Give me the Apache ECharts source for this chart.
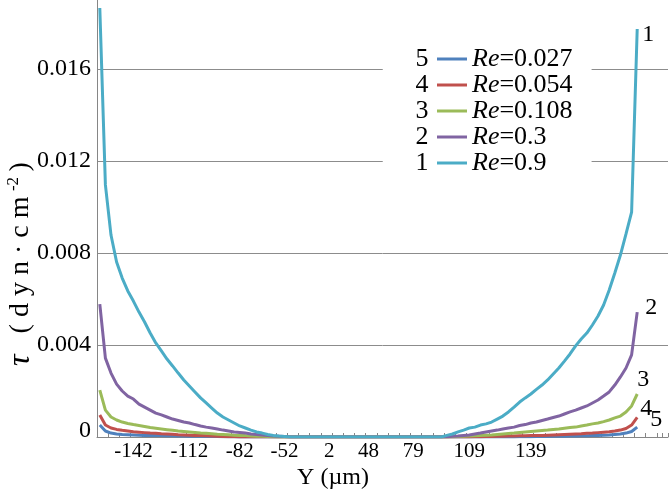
<!DOCTYPE html>
<html><head><meta charset="utf-8">
<script src="https://cdn.jsdelivr.net/npm/echarts@6/dist/echarts.min.js"></script>
<style>html,body{margin:0;padding:0;background:#fff}#c{width:670px;height:497px}</style>
</head><body><div id="c"></div>
<script>
// Category axis: tick labels (Y in µm), most slots unlabeled
const categories = [
  '', '', '', '', '', '', '-142', '', '', '',
  '', '', '', '', '', '', '-112', '', '', '',
  '', '', '', '', '', '-82', '', '', '', '',
  '', '', '', '-52', '', '', '', '', '', '',
  '', '2', '', '', '', '', '', '', '48', '',
  '', '', '', '', '', '', '79', '', '', '',
  '', '', '', '', '', '', '109', '', '', '',
  '', '', '', '', '', '', '', '139', '', '',
  '', '', '', '', '', '', '', '', '', '',
  '', '', '', '', '', '', '', '', '', '',
  '', ''
];
const seriesNames = ['Re=0.027', 'Re=0.054', 'Re=0.108', 'Re=0.3', 'Re=0.9'];
const curveNumbers = ['5', '4', '3', '2', '1'];
const yTickValues = [0, 0.004, 0.008, 0.012, 0.016];

const re0027 = [
  0.00052, 0.00026, 0.00017, 0.00013, 0.00011, 0.00010, 0.00009, 0.00008, 0.00007, 0.00007,
  0.00006, 0.00006, 0.00005, 0.00005, 0.00004, 0.00004, 0.00003, 0.00003, 0.00003, 0.00002,
  0.00002, 0.00002, 0.00001, 0.00001, 0.00001,
  0, 0, 0, 0, 0, 0, 0, 0, 0, 0,
  0, 0, 0, 0, 0, 0, 0, 0, 0, 0,
  0, 0, 0, 0, 0, 0, 0, 0, 0, 0,
  0, 0, 0, 0, 0, 0, 0, 0, 0, 0,
  0, 0, 0, 0, 0, 0, 0, 0, 0, 0,
  0.00001, 0.00001, 0.00001, 0.00002, 0.00002, 0.00002, 0.00003, 0.00003, 0.00003, 0.00004,
  0.00004, 0.00005, 0.00005, 0.00006, 0.00007, 0.00008, 0.00009, 0.00011, 0.00013, 0.00017,
  0.00024, 0.00043
];
const re0054 = [
  0.00096, 0.00052, 0.00039, 0.00033, 0.00029, 0.00026, 0.00023, 0.00021, 0.00019, 0.00017,
  0.00016, 0.00014, 0.00013, 0.00012, 0.00010, 0.00009, 0.00008, 0.00007, 0.00006, 0.00005,
  0.00004, 0.00003, 0.00002, 0.00001, 0.00001,
  0, 0, 0, 0, 0, 0, 0, 0, 0, 0,
  0, 0, 0, 0, 0, 0, 0, 0, 0, 0,
  0, 0, 0, 0, 0, 0, 0, 0, 0, 0,
  0, 0, 0, 0, 0, 0, 0, 0, 0, 0,
  0, 0,
  0.00001, 0.00001, 0.00002, 0.00002, 0.00003, 0.00003, 0.00004, 0.00004, 0.00005, 0.00005,
  0.00006, 0.00006, 0.00007, 0.00008, 0.00009, 0.00010, 0.00011, 0.00012, 0.00013, 0.00014,
  0.00016, 0.00017, 0.00019, 0.00021, 0.00023, 0.00026, 0.00030, 0.00037, 0.00052, 0.00085
];
const re0108 = [
  0.00204, 0.00117, 0.00087, 0.00074, 0.00065, 0.00059, 0.00054, 0.00050, 0.00046, 0.00041,
  0.00038, 0.00035, 0.00032, 0.00029, 0.00026, 0.00024, 0.00022, 0.00020, 0.00017, 0.00016,
  0.00014, 0.00012, 0.00011, 0.00010, 0.00008, 0.00007, 0.00006, 0.00004, 0.00003, 0.00003,
  0.00002, 0.00001,
  0, 0, 0, 0, 0, 0, 0, 0, 0, 0,
  0, 0, 0, 0, 0, 0, 0, 0, 0, 0,
  0, 0, 0, 0, 0, 0, 0, 0, 0, 0,
  0,
  0.00001, 0.00002, 0.00003, 0.00004, 0.00005, 0.00007, 0.00008, 0.00009, 0.00011, 0.00013,
  0.00015, 0.00017, 0.00020, 0.00022, 0.00024, 0.00026, 0.00028, 0.00030, 0.00033, 0.00035,
  0.00038, 0.00041, 0.00043, 0.00048, 0.00052, 0.00057, 0.00061, 0.00067, 0.00074, 0.00083,
  0.00091, 0.00109, 0.00135, 0.00187
];
const re03 = [
  0.00578, 0.00343, 0.00278, 0.00230, 0.00200, 0.00178, 0.00165, 0.00143, 0.00130, 0.00117,
  0.00104, 0.00096, 0.00087, 0.00078, 0.00072, 0.00065, 0.00061, 0.00054, 0.00048, 0.00043,
  0.00039, 0.00035, 0.00030, 0.00026, 0.00022, 0.00020, 0.00017, 0.00013, 0.00011, 0.00009,
  0.00007, 0.00004, 0.00003, 0.00002,
  0, 0, 0, 0, 0, 0, 0, 0, 0, 0,
  0, 0, 0, 0, 0, 0, 0, 0, 0, 0,
  0, 0, 0, 0, 0, 0, 0, 0,
  0.00001, 0.00003, 0.00004, 0.00007, 0.00009, 0.00013, 0.00017, 0.00022, 0.00026, 0.00030,
  0.00035, 0.00039, 0.00043, 0.00050, 0.00054, 0.00061, 0.00065, 0.00072, 0.00078, 0.00085,
  0.00091, 0.00100, 0.00109, 0.00117, 0.00126, 0.00135, 0.00148, 0.00161, 0.00178, 0.00196,
  0.00226, 0.00261, 0.00300, 0.00357, 0.00543
];
const re09 = [
  0.01865, 0.01096, 0.00878, 0.00761, 0.00691, 0.00635, 0.00591, 0.00543, 0.00500, 0.00452,
  0.00409, 0.00374, 0.00339, 0.00309, 0.00278, 0.00248, 0.00222, 0.00196, 0.00170, 0.00148,
  0.00126, 0.00104, 0.00087, 0.00074, 0.00061, 0.00048, 0.00039, 0.00030, 0.00022, 0.00017,
  0.00011, 0.00007, 0.00004, 0.00002,
  0, 0, 0, 0, 0, 0, 0, 0, 0, 0,
  0, 0, 0, 0, 0, 0, 0, 0, 0, 0,
  0, 0, 0, 0, 0, 0, 0, 0,
  0.00007, 0.00013, 0.00022, 0.00030, 0.00039, 0.00043, 0.00052, 0.00057, 0.00065, 0.00078,
  0.00091, 0.00109, 0.00130, 0.00152, 0.00170, 0.00187, 0.00207, 0.00226, 0.00248, 0.00274,
  0.00300, 0.00330, 0.00361, 0.00396, 0.00426, 0.00452, 0.00487, 0.00526, 0.00574, 0.00639,
  0.00713, 0.00791, 0.00883, 0.00978, 0.01774
];
const seriesValues = [re0027, re0054, re0108, re03, re09];

const colors = ['#4F81BD', '#C0504D', '#9BBB59', '#8064A2', '#4BACC6'];
const endOffsets = [[8, -7], [-2, -9], [-5, -14], [3, -4], [0, 6]];
const FONT = 'Liberation Serif';

const chart = echarts.init(document.getElementById('c'), null, {renderer: 'canvas'});
const series = seriesNames.map((name, k) => ({
  type: 'line',
  name: name,
  data: seriesValues[k],
  showSymbol: false,
  symbol: 'none',
  smooth: false,
  animation: false,
  color: colors[k],
  lineStyle: {width: 3, color: colors[k]},
  itemStyle: {color: colors[k]},
  endLabel: {
    show: true,
    formatter: () => curveNumbers[k],
    fontFamily: FONT, fontSize: 24, color: '#000',
    distance: 5,
    offset: endOffsets[k]
  }
}));

const rowY = [59, 85, 111, 137, 163];
const sp = [0, 3.5, 0, 3.5];
chart.setOption({
  animation: false,
  backgroundColor: '#fff',
  grid: {left: 97, right: 2, top: -23, bottom: 60, containLabel: false, outerBoundsMode: 'none'},
  xAxis: {
    type: 'category',
    data: categories,
    boundaryGap: true,
    name: 'Y (µm)',
    nameLocation: 'middle',
    nameGap: 29,
    nameMoveOverlap: false,
    nameTextStyle: {fontFamily: FONT, fontSize: 24, color: '#000', padding: [0, 99, 0, 0]},
    axisLine: {lineStyle: {color: '#868686', width: 1}},
    axisTick: {show: true, inside: true, length: 4, interval: 1, lineStyle: {color: '#868686'}},
    axisLabel: {interval: 0, fontFamily: FONT, fontSize: 21, color: '#000', margin: 4},
    splitLine: {show: false}
  },
  yAxis: {
    type: 'value',
    min: yTickValues[0],
    max: 0.02,
    interval: 0.004,
    name: '{t|τ}{a| }{a|(}{a|d}{a|y}{a|n}{a|·}{a|c}{a|m}{s|-2}{a|)}',
    nameLocation: 'middle',
    nameRotate: 90,
    nameGap: 60,
    nameMoveOverlap: false,
    nameTextStyle: {
      fontFamily: FONT, fontSize: 28, color: '#000', padding: [0, 114, 0, 0],
      rich: {
        t: {fontFamily: FONT, fontSize: 32, fontStyle: 'italic', color: '#000', padding: sp},
        a: {fontFamily: FONT, fontSize: 28, color: '#000', padding: sp},
        s: {fontFamily: FONT, fontSize: 17, color: '#000', verticalAlign: 'top', padding: [0, 2, 0, 2]}
      }
    },
    axisLine: {show: true, lineStyle: {color: '#868686', width: 1}},
    axisTick: {show: false},
    axisLabel: {
      fontFamily: FONT, fontSize: 24, color: '#000', margin: 6,
      formatter: v => (v === 0 ? '{z|0}' : v.toFixed(3)),
      rich: {z: {fontFamily: FONT, fontSize: 24, color: '#000', padding: [0, 0, 12, 0]}}
    },
    splitLine: {show: true, lineStyle: {color: '#8c8c8c', width: 1}}
  },
  legend: {
    orient: 'vertical',
    left: 383, top: 30,
    padding: [16, 19, 6, 54],
    backgroundColor: '#fff',
    itemWidth: 30, itemHeight: 3, itemGap: 0,
    icon: 'rect',
    data: seriesNames,
    formatter: n => '{i|Re}' + n.slice(2),
    textStyle: {
      fontFamily: FONT, fontSize: 26, color: '#000', lineHeight: 26,
      rich: {i: {fontFamily: FONT, fontSize: 26, fontStyle: 'italic', color: '#000', lineHeight: 26}}
    }
  },
  graphic: curveNumbers.map((num, k) => ({
    type: 'text',
    z: 100,
    x: 422, y: rowY[k],
    style: {text: num, fontFamily: FONT, fontSize: 26, fill: '#000', align: 'center', verticalAlign: 'middle'}
  })),
  series: series
});
</script>
</body></html>
